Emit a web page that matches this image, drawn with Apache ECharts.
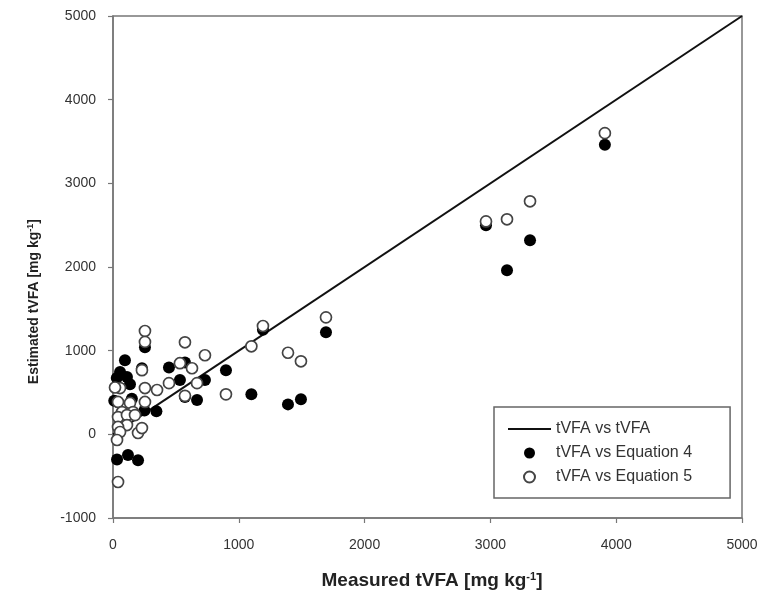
<!DOCTYPE html>
<html>
<head>
<meta charset="utf-8">
<script src="https://cdn.jsdelivr.net/npm/echarts@6/dist/echarts.min.js"></script>
<style>html,body{margin:0;padding:0;background:#fff}#c{width:762px;height:599px}</style>
</head>
<body>
<div id="c"></div>
<script>
const xTicks = [0, 1000, 2000, 3000, 4000, 5000];
const yTicks = [-1000, 0, 1000, 2000, 3000, 4000, 5000];
const lineNames = ['tVFA vs tVFA', 'tVFA vs Equation 4', 'tVFA vs Equation 5'];
const identityLine = [[0, 0], [5000, 5000]];
const eq4 = [
  [3910, 3460], [2965, 2500], [3132, 1960], [3315, 2320], [1693, 1220], [1192, 1250],
  [1100, 478], [1391, 358], [1494, 418], [898, 765],
  [254, 1040], [572, 860], [445, 800], [532, 650], [731, 650], [572, 445], [668, 410],
  [250, 285], [345, 275], [230, 790], [150, 425], [10, 400],
  [95, 885], [56, 745], [111, 685], [30, 673], [135, 600],
  [32, -300], [119, -247], [199, -310]
];
const eq5 = [
  [3910, 3600], [2965, 2545], [3132, 2570], [3315, 2785], [1693, 1398], [1192, 1295],
  [1100, 1052], [1391, 975], [1494, 873], [898, 478],
  [254, 1235], [254, 1105], [572, 1100], [731, 945], [532, 850], [628, 790], [230, 767],
  [445, 612], [668, 612], [254, 553], [350, 530], [56, 553], [16, 560], [572, 460],
  [40, 387], [135, 375], [254, 387], [72, 266], [159, 266],
  [40, 206], [111, 230], [175, 230], [111, 111], [40, 88], [56, 28], [199, 16], [230, 75],
  [32, -68], [40, -570]
];

const chart = echarts.init(document.getElementById('c'));
const font = 'Liberation Sans, Arial, sans-serif';
const plain = v => String(v);
chart.setOption({
  animation: false,
  backgroundColor: '#fff',
  grid: { left: 113, right: 20, top: 16, bottom: 81, show: true, borderColor: '#777', borderWidth: 1.5, backgroundColor: 'transparent' },
  xAxis: {
    type: 'value', min: xTicks[0], max: xTicks[xTicks.length - 1], interval: 1000,
    axisLine: { onZero: false, lineStyle: { color: '#777', width: 1.5 } },
    axisTick: { show: true, length: 5, lineStyle: { color: '#777', width: 1.2 } },
    axisLabel: { color: '#333', fontFamily: font, fontSize: 14, margin: 20, formatter: plain },
    splitLine: { show: false },
    name: 'Measured tVFA [mg kg{sup|-1}]',
    nameLocation: 'middle', nameGap: 53,
    nameTextStyle: {
      color: '#222', fontFamily: font, fontSize: 19, fontWeight: 'bold', padding: [0, 0, 0, 9],
      rich: { sup: { fontSize: 11, fontWeight: 'bold', fontFamily: font, color: '#222', padding: [0, 0, 9, 0] } }
    }
  },
  yAxis: {
    type: 'value', min: yTicks[0], max: yTicks[yTicks.length - 1], interval: 1000,
    axisLine: { onZero: false, lineStyle: { color: '#777', width: 1.5 } },
    axisTick: { show: true, length: 5, lineStyle: { color: '#777', width: 1.2 } },
    axisLabel: { color: '#333', fontFamily: font, fontSize: 14, margin: 17, formatter: plain },
    splitLine: { show: false }
  },
  graphic: [{
    type: 'text', left: 26, top: 219,
    style: {
      text: 'Estimated tVFA [mg kg{sup|-1}]',
      font: 'bold 14px ' + font, fill: '#222',
      rich: { sup: { fontSize: 9, fontWeight: 'bold', fontFamily: font, fill: '#222', padding: [0, 0, 8, 0] } }
    },
    rotation: Math.PI / 2
  }],
  legend: {
    data: [
      { name: lineNames[0], itemStyle: { opacity: 0 } },
      { name: lineNames[1] },
      { name: lineNames[2] }
    ],
    orient: 'vertical', left: 494, top: 407,
    padding: [14, 38, 13, 13], itemWidth: 43, itemHeight: 11, itemGap: 8, itemTextGap: 5,
    borderColor: '#666', borderWidth: 1.5, borderRadius: 0,
    textStyle: { color: '#333', fontFamily: font, fontSize: 16 }
  },
  series: [
    { name: lineNames[0], type: 'line', data: identityLine, symbol: 'none', lineStyle: { color: '#111', width: 2 }, itemStyle: { color: '#111' }, z: 1 },
    { name: lineNames[1], type: 'scatter', data: eq4, symbol: 'circle', symbolSize: 12, itemStyle: { color: '#000', opacity: 1 }, z: 2 },
    { name: lineNames[2], type: 'scatter', data: eq5, symbol: 'circle', symbolSize: 11, itemStyle: { color: '#fff', borderColor: '#444', borderWidth: 1.7, opacity: 1 }, z: 3 }
  ]
});
</script>
</body>
</html>
